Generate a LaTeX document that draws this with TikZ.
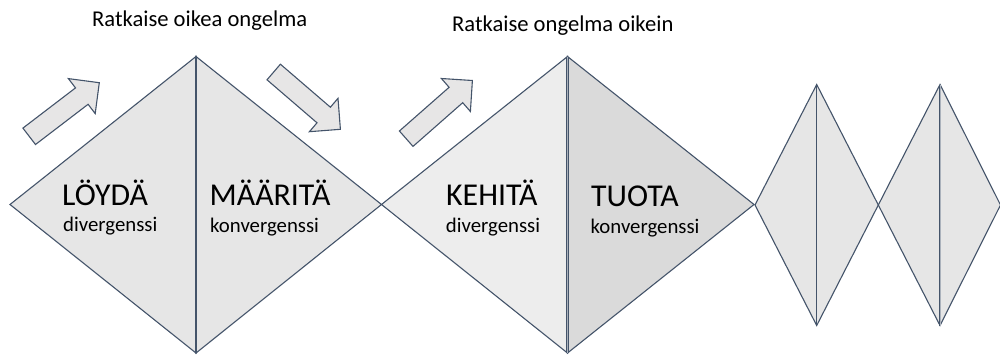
\documentclass[tikz,border=0pt]{standalone}
\usepackage{fontspec}
\setmainfont{Carlito}
\definecolor{edge}{HTML}{44546A}
\definecolor{fillA}{HTML}{E6E6E6}
\definecolor{fillL}{HTML}{EDEDED}
\definecolor{fillD}{HTML}{DADADA}
\definecolor{arrowfill}{HTML}{E7E6E6}
\tikzset{
  half/.style={draw=edge, line width=1.1pt, line join=miter},
  midline/.style={draw=edge, line width=1.3pt},
  dblline/.style={draw=edge, line width=0.9pt, double=edge!45, double distance=0.9pt},
  blockarrow/.style={draw=edge, fill=arrowfill, line width=1.1pt, line join=miter},
  bigword/.style={anchor=base west, inner sep=0pt, font=\fontsize{31.8}{31.8}\selectfont},
  smallword/.style={anchor=base west, inner sep=0pt, font=\fontsize{20.8}{20.8}\selectfont},
  titleword/.style={anchor=base west, inner sep=0pt, font=\fontsize{22.6}{22.6}\selectfont}
}
\begin{document}
\begin{tikzpicture}[x=1pt,y=-1pt]
\useasboundingbox (0,0) rectangle (1000,354);
\begin{scope}
\clip (0,0) rectangle (1000,354);
% diamond 1
\coordinate (d1L) at (10,204.5);
\coordinate (d1T) at (196,56.5);
\coordinate (d1R) at (381.5,204.5);
\coordinate (d1B) at (196,353);
\filldraw[half, fill=fillA] (d1L) -- (d1T) -- (d1B) -- cycle;
\filldraw[half, fill=fillA] (d1T) -- (d1R) -- (d1B) -- cycle;
\draw[midline] (d1T) -- (d1B);
% diamond 2
\coordinate (d2T) at (567.5,56.5);
\coordinate (d2R) at (754,204.5);
\coordinate (d2B) at (567.5,353);
\filldraw[half, fill=fillL] (d1R) -- (d2T) -- (d2B) -- cycle;
\filldraw[half, fill=fillD] (d2T) -- (d2R) -- (d2B) -- cycle;
\draw[dblline] (d2T) -- (d2B);
% small diamond 1
\coordinate (s1L) at (755,205);
\coordinate (s1T) at (816.7,84.5);
\coordinate (s1R) at (878.3,205);
\coordinate (s1B) at (816.7,325.5);
\filldraw[half, fill=fillA] (s1L) -- (s1T) -- (s1R) -- (s1B) -- cycle;
\draw[midline] (s1T) -- (s1B);
% small diamond 2
\coordinate (s2T) at (940,84.5);
\coordinate (s2R) at (1000.5,205);
\coordinate (s2B) at (940,325.5);
\filldraw[half, fill=fillA] (s1R) -- (s2T) -- (s2R) -- (s2B) -- cycle;
\draw[dblline] (s2T) -- (s2B);
\end{scope}
% block arrows
\filldraw[blockarrow] (22.9,128.1) -- (75.5,87.9) -- (68.4,78.6) -- (99.3,82.7) -- (95.2,113.6) -- (88.1,104.3) -- (35.5,144.5) -- cycle;
\filldraw[blockarrow] (280.4,64.2) -- (330.4,107.2) -- (338,98.3) -- (340.4,129.3) -- (309.4,131.7) -- (317,122.8) -- (267,79.8) -- cycle;
\filldraw[blockarrow] (399.4,131) -- (449.1,87.3) -- (441.4,78.5) -- (472.4,80.5) -- (470.4,111.5) -- (462.7,102.7) -- (413,146.4) -- cycle;
% titles
\node[titleword] (t1) at (92,26.5) {Ratkaise oikea ongelma};
\node[titleword] (t2) at (452,31.5) {Ratkaise ongelma oikein};
% labels
\node[bigword] (loyda) at (62,205) {LÖYDÄ};
\node[smallword] (div1) at (63,231.7) {divergenssi};
\node[bigword] (maarita) at (209.5,205) {MÄÄRITÄ};
\node[smallword] (kon1) at (210,232) {konvergenssi};
\node[bigword] (kehita) at (446,205) {KEHITÄ};
\node[smallword] (div2) at (445.7,232) {divergenssi};
\node[bigword] (tuota) at (591,206.7) {TUOTA};
\node[smallword] (kon2) at (590.5,233) {konvergenssi};
\end{tikzpicture}
\end{document}
